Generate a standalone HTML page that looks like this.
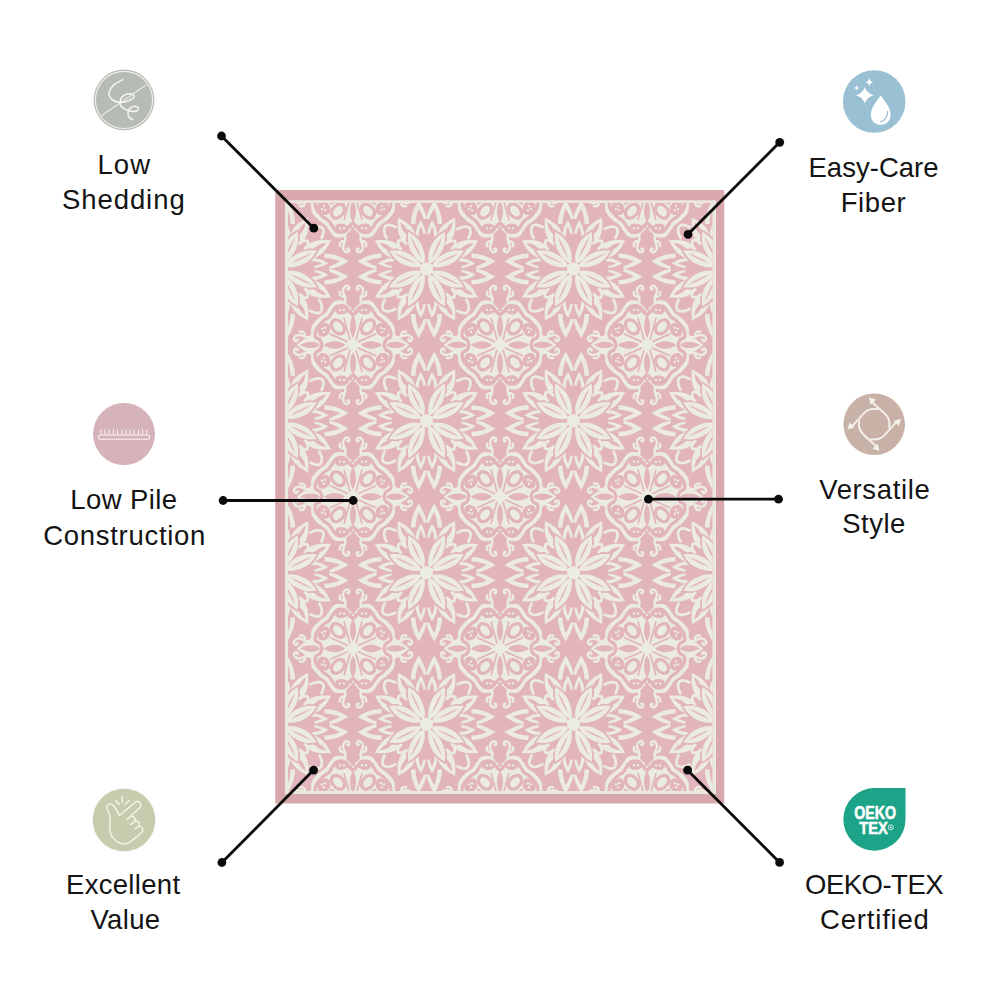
<!DOCTYPE html>
<html><head><meta charset="utf-8"><style>
html,body{margin:0;padding:0;background:#fff;width:1000px;height:1000px;overflow:hidden}
svg{display:block}
.t{font-family:"Liberation Sans",sans-serif;font-size:27.5px;fill:#141414}
</style></head><body>
<svg width="1000" height="1000" viewBox="0 0 1000 1000">
<defs>
<path id="fpet" d="M0 -5.5 C5 -11 6.3 -19 6 -26 C5.6 -32 2.8 -37 0 -41.5 C-2.8 -37 -5.6 -32 -6 -26 C-6.3 -19 -5 -11 0 -5.5Z"/>
<path id="fvein" d="M0 -12 C1.2 -20 1.2 -28 0 -36 C-1.2 -28 -1.2 -20 0 -12Z"/>
<path id="fout" d="M0 -22 C7 -28 8.2 -37 7.2 -44 C6 -50 3 -54 0 -59 C-3 -54 -6 -50 -7.2 -44 C-8.2 -37 -7 -28 0 -22Z"/>
<path id="fouti" d="M0 -38 C2 -42 2.3 -46 1.6 -49 C1.2 -51 0.6 -52 0 -53.5 C-0.6 -52 -1.2 -51 -1.6 -49 C-2.3 -46 -2 -42 0 -38Z"/>
<path id="flamO" d="M-15.5 -45 C-15.5 -55 -11.5 -63 -7.6 -69 C-4.5 -63 -0.8 -57 0.2 -50 L-2.8 -50 C-4 -54 -5.8 -57 -7.8 -60.5 C-9.5 -56 -11 -51 -11 -45Z"/>
<path id="flamI" d="M-11 -32 C-11 -39 -8.5 -45 -5.4 -48.8 C-3.2 -44.5 -1.2 -40 -0.7 -35 L-3.2 -35 C-3.7 -38 -4.7 -40.5 -5.6 -42.5 C-7 -39.5 -7.8 -36 -7.8 -32Z"/>
<g id="flower">
<use href="#fout" transform="rotate(-29)"/>
<use href="#fouti" fill="#e2b5bc" transform="rotate(-29)"/>
<use href="#fout" transform="rotate(29)"/>
<use href="#fouti" fill="#e2b5bc" transform="rotate(29)"/>
<use href="#fout" transform="rotate(61)"/>
<use href="#fouti" fill="#e2b5bc" transform="rotate(61)"/>
<use href="#fout" transform="rotate(119)"/>
<use href="#fouti" fill="#e2b5bc" transform="rotate(119)"/>
<use href="#fout" transform="rotate(151)"/>
<use href="#fouti" fill="#e2b5bc" transform="rotate(151)"/>
<use href="#fout" transform="rotate(209)"/>
<use href="#fouti" fill="#e2b5bc" transform="rotate(209)"/>
<use href="#fout" transform="rotate(241)"/>
<use href="#fouti" fill="#e2b5bc" transform="rotate(241)"/>
<use href="#fout" transform="rotate(299)"/>
<use href="#fouti" fill="#e2b5bc" transform="rotate(299)"/>
<g transform="rotate(0)"><use href="#flamO"/><use href="#flamO" transform="scale(-1 1)"/><use href="#flamI"/><use href="#flamI" transform="scale(-1 1)"/></g>
<g transform="rotate(90)"><use href="#flamO"/><use href="#flamO" transform="scale(-1 1)"/><use href="#flamI"/><use href="#flamI" transform="scale(-1 1)"/></g>
<g transform="rotate(180)"><use href="#flamO"/><use href="#flamO" transform="scale(-1 1)"/><use href="#flamI"/><use href="#flamI" transform="scale(-1 1)"/></g>
<g transform="rotate(270)"><use href="#flamO"/><use href="#flamO" transform="scale(-1 1)"/><use href="#flamI"/><use href="#flamI" transform="scale(-1 1)"/></g>
<use href="#fpet" fill="#e2b5bc" transform="rotate(-26) scale(1.25 1.07)"/>
<use href="#fpet" fill="#e2b5bc" transform="rotate(26) scale(1.25 1.07)"/>
<use href="#fpet" fill="#e2b5bc" transform="rotate(64) scale(1.25 1.07)"/>
<use href="#fpet" fill="#e2b5bc" transform="rotate(116) scale(1.25 1.07)"/>
<use href="#fpet" fill="#e2b5bc" transform="rotate(154) scale(1.25 1.07)"/>
<use href="#fpet" fill="#e2b5bc" transform="rotate(206) scale(1.25 1.07)"/>
<use href="#fpet" fill="#e2b5bc" transform="rotate(244) scale(1.25 1.07)"/>
<use href="#fpet" fill="#e2b5bc" transform="rotate(296) scale(1.25 1.07)"/>
<use href="#fpet" transform="rotate(-26)"/>
<use href="#fpet" transform="rotate(26)"/>
<use href="#fpet" transform="rotate(64)"/>
<use href="#fpet" transform="rotate(116)"/>
<use href="#fpet" transform="rotate(154)"/>
<use href="#fpet" transform="rotate(206)"/>
<use href="#fpet" transform="rotate(244)"/>
<use href="#fpet" transform="rotate(296)"/>
<circle r="6.6"/>
<g fill="none" stroke="#ebebe0" stroke-width="2.8" stroke-linecap="round">
<path transform="rotate(0)" d="M-40 -31 C-43 -36 -43 -41 -41 -43 C-39 -45 -35 -44 -31 -42"/>
<path transform="rotate(0)" d="M-26 -20 C-28.5 -23 -29 -27 -27.5 -28.5 C-26 -29.5 -23 -28 -20.5 -25.5"/>
<path transform="rotate(90)" d="M-40 -31 C-43 -36 -43 -41 -41 -43 C-39 -45 -35 -44 -31 -42"/>
<path transform="rotate(90)" d="M-26 -20 C-28.5 -23 -29 -27 -27.5 -28.5 C-26 -29.5 -23 -28 -20.5 -25.5"/>
<path transform="rotate(180)" d="M-40 -31 C-43 -36 -43 -41 -41 -43 C-39 -45 -35 -44 -31 -42"/>
<path transform="rotate(180)" d="M-26 -20 C-28.5 -23 -29 -27 -27.5 -28.5 C-26 -29.5 -23 -28 -20.5 -25.5"/>
<path transform="rotate(270)" d="M-40 -31 C-43 -36 -43 -41 -41 -43 C-39 -45 -35 -44 -31 -42"/>
<path transform="rotate(270)" d="M-26 -20 C-28.5 -23 -29 -27 -27.5 -28.5 C-26 -29.5 -23 -28 -20.5 -25.5"/>
</g>
<use href="#fvein" fill="#e2b5bc" transform="rotate(-26)"/>
<use href="#fvein" fill="#e2b5bc" transform="rotate(26)"/>
<use href="#fvein" fill="#e2b5bc" transform="rotate(64)"/>
<use href="#fvein" fill="#e2b5bc" transform="rotate(116)"/>
<use href="#fvein" fill="#e2b5bc" transform="rotate(154)"/>
<use href="#fvein" fill="#e2b5bc" transform="rotate(206)"/>
<use href="#fvein" fill="#e2b5bc" transform="rotate(244)"/>
<use href="#fvein" fill="#e2b5bc" transform="rotate(296)"/>
</g>
<path id="mbody" d="M0 -35 C0 -35 -3.5 -37.58 -5 -39 C-6.5 -40.42 -6.83 -42.75 -9 -43.5 C-11.17 -44.25 -15.67 -44.42 -18 -43.5 C-20.33 -42.58 -21.5 -39.92 -23 -38 C-24.5 -36.08 -25.5 -33.58 -27 -32 C-28.5 -30.42 -30.33 -29.83 -32 -28.5 C-33.67 -27.17 -35.5 -25.75 -37 -24 C-38.5 -22.25 -40.17 -20.33 -41 -18 C-41.83 -15.67 -40.83 -12 -42 -10 C-43.17 -8 -48 -6 -48 -6 C-48 -6 -56 0 -56 0 C-56 0 -48 6 -48 6 C-48 6 -43.17 8 -42 10 C-40.83 12 -41.83 15.67 -41 18 C-40.17 20.33 -38.5 22.25 -37 24 C-35.5 25.75 -33.67 27.17 -32 28.5 C-30.33 29.83 -28.5 30.42 -27 32 C-25.5 33.58 -24.5 36.08 -23 38 C-21.5 39.92 -20.33 42.58 -18 43.5 C-15.67 44.42 -11.17 44.25 -9 43.5 C-6.83 42.75 -6.5 40.42 -5 39 C-3.5 37.58 0 35 0 35 C0 35 3.5 37.58 5 39 C6.5 40.42 6.83 42.75 9 43.5 C11.17 44.25 15.67 44.42 18 43.5 C20.33 42.58 21.5 39.92 23 38 C24.5 36.08 25.5 33.58 27 32 C28.5 30.42 30.33 29.83 32 28.5 C33.67 27.17 35.5 25.75 37 24 C38.5 22.25 40.17 20.33 41 18 C41.83 15.67 40.83 12 42 10 C43.17 8 48 6 48 6 C48 6 56 0 56 0 C56 0 48 -6 48 -6 C48 -6 43.17 -8 42 -10 C40.83 -12 41.83 -15.67 41 -18 C40.17 -20.33 38.5 -22.25 37 -24 C35.5 -25.75 33.67 -27.17 32 -28.5 C30.33 -29.83 28.5 -30.42 27 -32 C25.5 -33.58 24.5 -36.08 23 -38 C21.5 -39.92 20.33 -42.58 18 -43.5 C15.67 -44.42 11.17 -44.25 9 -43.5 C6.83 -42.75 6.5 -40.42 5 -39 C3.5 -37.58 0 -35 0 -35Z" stroke="#ebebe0" stroke-width="1" stroke-linejoin="round"/>
<path id="mring" d="M0 -30 C0 -30 -2.67 -32.08 -4 -33.5 C-5.33 -34.92 -6 -37.67 -8 -38.5 C-10 -39.33 -14 -39.25 -16 -38.5 C-18 -37.75 -18.67 -35.75 -20 -34 C-21.33 -32.25 -22.5 -29.58 -24 -28 C-25.5 -26.42 -27.5 -25.75 -29 -24.5 C-30.5 -23.25 -31.67 -22.08 -33 -20.5 C-34.33 -18.92 -36.25 -17.08 -37 -15 C-37.75 -12.92 -38.17 -9.67 -37.5 -8 C-36.83 -6.33 -34.08 -6.33 -33 -5 C-31.92 -3.67 -31 0 -31 0 C-31 0 -31.92 3.67 -33 5 C-34.08 6.33 -36.83 6.33 -37.5 8 C-38.17 9.67 -37.75 12.92 -37 15 C-36.25 17.08 -34.33 18.92 -33 20.5 C-31.67 22.08 -30.5 23.25 -29 24.5 C-27.5 25.75 -25.5 26.42 -24 28 C-22.5 29.58 -21.33 32.25 -20 34 C-18.67 35.75 -18 37.75 -16 38.5 C-14 39.25 -10 39.33 -8 38.5 C-6 37.67 -5.33 34.92 -4 33.5 C-2.67 32.08 0 30 0 30 C0 30 2.67 32.08 4 33.5 C5.33 34.92 6 37.67 8 38.5 C10 39.33 14 39.25 16 38.5 C18 37.75 18.67 35.75 20 34 C21.33 32.25 22.5 29.58 24 28 C25.5 26.42 27.5 25.75 29 24.5 C30.5 23.25 31.67 22.08 33 20.5 C34.33 18.92 36.25 17.08 37 15 C37.75 12.92 38.17 9.67 37.5 8 C36.83 6.33 34.08 6.33 33 5 C31.92 3.67 31 0 31 0 C31 0 31.92 -3.67 33 -5 C34.08 -6.33 36.83 -6.33 37.5 -8 C38.17 -9.67 37.75 -12.92 37 -15 C36.25 -17.08 34.33 -18.92 33 -20.5 C31.67 -22.08 30.5 -23.25 29 -24.5 C27.5 -25.75 25.5 -26.42 24 -28 C22.5 -29.58 21.33 -32.25 20 -34 C18.67 -35.75 18 -37.75 16 -38.5 C14 -39.25 10 -39.33 8 -38.5 C6 -37.67 5.33 -34.92 4 -33.5 C2.67 -32.08 0 -30 0 -30Z" fill="none" stroke="#e2b5bc" stroke-width="3.3" stroke-linejoin="round"/>
<g id="med">
<use href="#mbody"/>
<use href="#mring"/>
<g fill="none" stroke="#ebebe0" stroke-width="2.5" stroke-linecap="round"><path transform="rotate(0) scale(-1 1)" d="M-8 -43 C-6 -47 -10 -50 -10 -54 C-10 -58 -6.5 -60 -4.5 -58.5 C-3 -57 -4 -55 -5.5 -55.5 M-9 -48 C-12 -48 -14 -50 -13 -53"/><path transform="rotate(0) scale(1 1)" d="M-8 -43 C-6 -47 -10 -50 -10 -54 C-10 -58 -6.5 -60 -4.5 -58.5 C-3 -57 -4 -55 -5.5 -55.5 M-9 -48 C-12 -48 -14 -50 -13 -53"/><path transform="rotate(90) scale(-1 1)" d="M-8 -43 C-6 -47 -10 -50 -10 -54 C-10 -58 -6.5 -60 -4.5 -58.5 C-3 -57 -4 -55 -5.5 -55.5 M-9 -48 C-12 -48 -14 -50 -13 -53"/><path transform="rotate(90) scale(1 1)" d="M-8 -43 C-6 -47 -10 -50 -10 -54 C-10 -58 -6.5 -60 -4.5 -58.5 C-3 -57 -4 -55 -5.5 -55.5 M-9 -48 C-12 -48 -14 -50 -13 -53"/><path transform="rotate(180) scale(-1 1)" d="M-8 -43 C-6 -47 -10 -50 -10 -54 C-10 -58 -6.5 -60 -4.5 -58.5 C-3 -57 -4 -55 -5.5 -55.5 M-9 -48 C-12 -48 -14 -50 -13 -53"/><path transform="rotate(180) scale(1 1)" d="M-8 -43 C-6 -47 -10 -50 -10 -54 C-10 -58 -6.5 -60 -4.5 -58.5 C-3 -57 -4 -55 -5.5 -55.5 M-9 -48 C-12 -48 -14 -50 -13 -53"/><path transform="rotate(270) scale(-1 1)" d="M-8 -43 C-6 -47 -10 -50 -10 -54 C-10 -58 -6.5 -60 -4.5 -58.5 C-3 -57 -4 -55 -5.5 -55.5 M-9 -48 C-12 -48 -14 -50 -13 -53"/><path transform="rotate(270) scale(1 1)" d="M-8 -43 C-6 -47 -10 -50 -10 -54 C-10 -58 -6.5 -60 -4.5 -58.5 C-3 -57 -4 -55 -5.5 -55.5 M-9 -48 C-12 -48 -14 -50 -13 -53"/></g>
<g fill="#e2b5bc"><path transform="rotate(90)" d="M0 -53 C4 -46 4.5 -38 0 -33 C-4.5 -38 -4 -46 0 -53Z"/><path transform="rotate(90)" d="M0 -29 C5 -22 5 -14 0 -8 C-5 -14 -5 -22 0 -29Z"/><path transform="rotate(270)" d="M0 -53 C4 -46 4.5 -38 0 -33 C-4.5 -38 -4 -46 0 -53Z"/><path transform="rotate(270)" d="M0 -29 C5 -22 5 -14 0 -8 C-5 -14 -5 -22 0 -29Z"/><path transform="rotate(0)" d="M0 -30 C4 -23 4 -14 0 -7 C-4 -14 -4 -23 0 -30Z"/><path transform="rotate(0)" d="M-6 -38 L-3 -31 L0 -35 L3 -31 L6 -38 L3 -34 L0 -38.5 L-3 -34Z"/><path transform="rotate(180)" d="M0 -30 C4 -23 4 -14 0 -7 C-4 -14 -4 -23 0 -30Z"/><path transform="rotate(180)" d="M-6 -38 L-3 -31 L0 -35 L3 -31 L6 -38 L3 -34 L0 -38.5 L-3 -34Z"/><ellipse transform="translate(-15 -18) rotate(-40)" rx="7" ry="9.5"/><ellipse transform="translate(-29 -15) rotate(40)" rx="6" ry="7.5"/><ellipse transform="translate(-11 -35) rotate(-10)" rx="7" ry="4.5"/><ellipse transform="translate(-15 18) rotate(40)" rx="7" ry="9.5"/><ellipse transform="translate(-29 15) rotate(-40)" rx="6" ry="7.5"/><ellipse transform="translate(-11 35) rotate(10)" rx="7" ry="4.5"/><ellipse transform="translate(15 -18) rotate(40)" rx="7" ry="9.5"/><ellipse transform="translate(29 -15) rotate(-40)" rx="6" ry="7.5"/><ellipse transform="translate(11 -35) rotate(10)" rx="7" ry="4.5"/><ellipse transform="translate(15 18) rotate(-40)" rx="7" ry="9.5"/><ellipse transform="translate(29 15) rotate(40)" rx="6" ry="7.5"/><ellipse transform="translate(11 35) rotate(-10)" rx="7" ry="4.5"/></g>
<g stroke="#e2b5bc" stroke-width="1.7" fill="none">
<path transform="scale(-1 -1)" d="M-5 -3 L-23 -11 M-3 -5 L-9 -27"/>
<path transform="scale(-1 1)" d="M-5 -3 L-23 -11 M-3 -5 L-9 -27"/>
<path transform="scale(1 -1)" d="M-5 -3 L-23 -11 M-3 -5 L-9 -27"/>
<path transform="scale(1 1)" d="M-5 -3 L-23 -11 M-3 -5 L-9 -27"/>
</g>
<g fill="#ebebe0"><ellipse transform="translate(-15 -18) rotate(-40)" rx="4" ry="6"/><circle cx="-29" cy="-13" r="1.2"/><circle cx="-28" cy="-17" r="1.2"/><circle cx="-31" cy="-16" r="1.2"/><circle cx="-9" cy="-35" r="1.2"/><circle cx="-13" cy="-35" r="1.2"/><ellipse transform="translate(-15 18) rotate(40)" rx="4" ry="6"/><circle cx="-29" cy="13" r="1.2"/><circle cx="-28" cy="17" r="1.2"/><circle cx="-31" cy="16" r="1.2"/><circle cx="-9" cy="35" r="1.2"/><circle cx="-13" cy="35" r="1.2"/><ellipse transform="translate(15 -18) rotate(40)" rx="4" ry="6"/><circle cx="29" cy="-13" r="1.2"/><circle cx="28" cy="-17" r="1.2"/><circle cx="31" cy="-16" r="1.2"/><circle cx="9" cy="-35" r="1.2"/><circle cx="13" cy="-35" r="1.2"/><ellipse transform="translate(15 18) rotate(-40)" rx="4" ry="6"/><circle cx="29" cy="13" r="1.2"/><circle cx="28" cy="17" r="1.2"/><circle cx="31" cy="16" r="1.2"/><circle cx="9" cy="35" r="1.2"/><circle cx="13" cy="35" r="1.2"/></g>
</g>
</defs>
<rect width="1000" height="1000" fill="#fff"/>
<rect x="275.2" y="190" width="449.00000000000006" height="613.5" fill="#d9a8ad"/>
<rect x="285" y="200.3" width="431" height="593.7" fill="#ebe8de"/>
<clipPath id="field"><rect x="288" y="202.8" width="424.70000000000005" height="588.2"/></clipPath>
<g clip-path="url(#field)">
<rect x="288" y="202.8" width="424.70000000000005" height="588.2" fill="#e2b5bc"/>
<g fill="#ebebe0">
<use href="#flower" x="279.5" y="269"/>
<use href="#flower" x="279.5" y="420.8"/>
<use href="#flower" x="279.5" y="572.6"/>
<use href="#flower" x="279.5" y="724.4"/>
<use href="#med" x="353" y="193.1"/>
<use href="#med" x="353" y="344.9"/>
<use href="#med" x="353" y="496.7"/>
<use href="#med" x="353" y="648.5"/>
<use href="#med" x="353" y="800.3"/>
<use href="#flower" x="426.5" y="269"/>
<use href="#flower" x="426.5" y="420.8"/>
<use href="#flower" x="426.5" y="572.6"/>
<use href="#flower" x="426.5" y="724.4"/>
<use href="#med" x="500" y="193.1"/>
<use href="#med" x="500" y="344.9"/>
<use href="#med" x="500" y="496.7"/>
<use href="#med" x="500" y="648.5"/>
<use href="#med" x="500" y="800.3"/>
<use href="#flower" x="573.5" y="269"/>
<use href="#flower" x="573.5" y="420.8"/>
<use href="#flower" x="573.5" y="572.6"/>
<use href="#flower" x="573.5" y="724.4"/>
<use href="#med" x="647" y="193.1"/>
<use href="#med" x="647" y="344.9"/>
<use href="#med" x="647" y="496.7"/>
<use href="#med" x="647" y="648.5"/>
<use href="#med" x="647" y="800.3"/>
<use href="#flower" x="720.5" y="269"/>
<use href="#flower" x="720.5" y="420.8"/>
<use href="#flower" x="720.5" y="572.6"/>
<use href="#flower" x="720.5" y="724.4"/>
</g></g>
<g stroke="#0a0a0a" stroke-width="2.8" fill="#0a0a0a">
<line x1="221.5" y1="136" x2="313.8" y2="228.2"/>
<circle cx="221.5" cy="136" r="4.4" stroke="none"/><circle cx="313.8" cy="228.2" r="4.4" stroke="none"/>
<line x1="779.7" y1="142.3" x2="688" y2="234.3"/>
<circle cx="779.7" cy="142.3" r="4.4" stroke="none"/><circle cx="688" cy="234.3" r="4.4" stroke="none"/>
<line x1="223.1" y1="500.5" x2="353.2" y2="500.5"/>
<circle cx="223.1" cy="500.5" r="4.4" stroke="none"/><circle cx="353.2" cy="500.5" r="4.4" stroke="none"/>
<line x1="648.4" y1="499.2" x2="778.5" y2="499.2"/>
<circle cx="648.4" cy="499.2" r="4.4" stroke="none"/><circle cx="778.5" cy="499.2" r="4.4" stroke="none"/>
<line x1="221.9" y1="862.5" x2="313.6" y2="770.1"/>
<circle cx="221.9" cy="862.5" r="4.4" stroke="none"/><circle cx="313.6" cy="770.1" r="4.4" stroke="none"/>
<line x1="779.6" y1="862.4" x2="687.6" y2="770.2"/>
<circle cx="779.6" cy="862.4" r="4.4" stroke="none"/><circle cx="687.6" cy="770.2" r="4.4" stroke="none"/>
</g>
<circle cx="124" cy="99.9" r="30.4" fill="#b7bbb5"/>
<circle cx="124" cy="99.9" r="28.6" fill="none" stroke="#eef0ec" stroke-width="1.15"/>
<line x1="101.4" y1="115.8" x2="146.6" y2="84.6" stroke="#eef0ec" stroke-width="1.1"/>
<path d="M122.70 79.60 C121.18 80.52 115.83 83.07 113.60 85.10 C111.37 87.13 109.93 89.80 109.30 91.80 C108.67 93.80 108.92 95.57 109.80 97.10 C110.68 98.63 112.93 100.12 114.60 101.00 C116.27 101.88 118.15 102.22 119.80 102.40 C121.45 102.58 122.97 102.42 124.50 102.10 C126.03 101.78 127.53 101.17 129.00 100.50 C130.47 99.83 132.50 98.98 133.30 98.10 C134.10 97.22 134.37 95.92 133.80 95.20 C133.23 94.48 131.50 93.80 129.90 93.80 C128.30 93.80 125.72 94.40 124.20 95.20 C122.68 96.00 121.45 97.32 120.80 98.60 C120.15 99.88 120.30 101.70 120.30 102.90 C120.30 104.10 120.08 104.77 120.80 105.80 C121.52 106.83 123.23 108.30 124.60 109.10 C125.97 109.90 127.47 110.20 129.00 110.60 C130.53 111.00 132.37 111.50 133.80 111.50 C135.23 111.50 136.88 111.23 137.60 110.60 C138.32 109.97 138.58 108.43 138.10 107.70 C137.62 106.97 135.90 106.20 134.70 106.20 C133.50 106.20 131.92 106.98 130.90 107.70 C129.88 108.42 129.08 109.55 128.60 110.50 C128.12 111.45 127.93 112.27 128.00 113.40 C128.07 114.53 128.20 116.25 129.00 117.30 C129.80 118.35 132.17 119.30 132.80 119.70" fill="none" stroke="#f4f5f2" stroke-width="1.55" stroke-linecap="round"/>
<circle cx="874.2" cy="101.5" r="31.3" fill="#9ac1d3"/>
<path d="M864.8 86.9 Q866.9119999999999 93.208 873.5999999999999 95.2 Q866.9119999999999 97.19200000000001 864.8 103.5 Q862.688 97.19200000000001 856.0 95.2 Q862.688 93.208 864.8 86.9Z M869.3 78.3 Q870.02 81.58 873.3 82.3 Q870.02 83.02 869.3 86.3 Q868.5799999999999 83.02 865.3 82.3 Q868.5799999999999 81.58 869.3 78.3Z M856.7 85.5 Q857.1500000000001 87.55 859.2 88 Q857.1500000000001 88.45 856.7 90.5 Q856.25 88.45 854.2 88 Q856.25 87.55 856.7 85.5Z" fill="#fff"/>
<path d="M880.7 95.3 C883.5 100.5 890.6 106.5 890.6 115.2 A9.9 9.9 0 0 1 870.8 115.2 C870.8 106.5 877.9 100.5 880.7 95.3Z" fill="#fff"/>
<path d="M887.4 111.6 C887.8 116.5 885 120.5 880.8 121.6" fill="none" stroke="#9ac1d3" stroke-width="1.3" stroke-linecap="round"/>
<circle cx="124" cy="434" r="31" fill="#d6b2b9"/>
<g fill="none" stroke="#fbf5f6" stroke-width="1.05"><rect x="98.3" y="434.9" width="51.4" height="4.3" rx="2.15"/><path d="M100.90 429.4V434.6M105.07 429.4V434.6M109.24 429.4V434.6M113.41 429.4V434.6M117.58 429.4V434.6M121.75 429.4V434.6M125.92 429.4V434.6M130.09 429.4V434.6M134.26 429.4V434.6M138.43 429.4V434.6M142.60 429.4V434.6M146.77 429.4V434.6"/></g>
<circle cx="874.2" cy="424.2" r="30.8" fill="#c8b2a8"/>
<g transform="translate(874.2 424.2)" stroke="#f6f1ec" fill="#f6f1ec" stroke-width="1.9" stroke-linecap="round"><g transform="rotate(0)"><path d="M3 -15 A15 15 0 0 0 -10.6 -10.6 L-21.5 1.5" fill="none"/><path d="M-26.8 5.3 L-19.5 3.4 L-24.6 -1.8Z" stroke="none"/></g><g transform="rotate(90)"><path d="M3 -15 A15 15 0 0 0 -10.6 -10.6 L-21.5 1.5" fill="none"/><path d="M-26.8 5.3 L-19.5 3.4 L-24.6 -1.8Z" stroke="none"/></g><g transform="rotate(180)"><path d="M3 -15 A15 15 0 0 0 -10.6 -10.6 L-21.5 1.5" fill="none"/><path d="M-26.8 5.3 L-19.5 3.4 L-24.6 -1.8Z" stroke="none"/></g><g transform="rotate(270)"><path d="M3 -15 A15 15 0 0 0 -10.6 -10.6 L-21.5 1.5" fill="none"/><path d="M-26.8 5.3 L-19.5 3.4 L-24.6 -1.8Z" stroke="none"/></g></g>
<circle cx="124" cy="820" r="31.3" fill="#c7ccae"/>
<path d="M119.5 815.5 L134.5 802.8 C136.5 801 139.5 801.2 140.5 803.5 C141.2 805.5 140.5 807 139 808.5 L127 819.5 M131 816 C134 816.5 136 818.5 135 821 C134.3 822.5 132 823.5 130.5 824.5 M134.5 820.5 C137.5 820.8 139.8 822.5 139.2 825 C138.7 826.8 136.5 828 135 829 M138.5 826 C141.5 826 143.2 828 142.7 831 C142.2 833 140 834.5 130 842 C127 844.2 122 844.5 118.5 842.5 C114 840 111 837 110 831 C109 826 110.5 821 110 816.5 C109.5 812 107 810 106.8 807.5 C106.6 805 108.5 803.8 110.5 804 C113 804.2 114.5 806 119.5 815.5 M122 796.5 L122.4 802.3 M115.5 800.5 L119.3 804.3 M125.2 804.3 L129 800.5" fill="none" stroke="#f3f5e2" stroke-width="1.5" stroke-linecap="round" stroke-linejoin="round"/>
<path d="M905.5 788.1 V819.5 A31.1 31.3 0 1 1 874.4 788.1 Z" fill="#1da387"/>
<g font-family="Liberation Sans" font-weight="bold" fill="#fff" stroke="#fff" stroke-width="0.55" text-anchor="middle"><text x="875.1" y="819.2" font-size="17.5" textLength="41.8" lengthAdjust="spacingAndGlyphs">OEKO</text><text x="873.5" y="834.4" font-size="17" textLength="28.5" lengthAdjust="spacingAndGlyphs">TEX</text></g>
<circle cx="890.8" cy="827.3" r="2.5" fill="none" stroke="#fff" stroke-width="0.8"/><circle cx="890.8" cy="827.3" r="0.9" fill="#fff"/>
<g class="t">
<text x="97.4" y="173.6" textLength="52.75">Low</text>
<text x="61.9" y="208.7" textLength="122.82">Shedding</text>
<text x="808.5" y="176.7" textLength="130.11">Easy-Care</text>
<text x="840.75" y="211.8" textLength="64.91">Fiber</text>
<text x="70.3" y="509.2" textLength="106.65">Low Pile</text>
<text x="43.25" y="544.6" textLength="162.14">Construction</text>
<text x="819.2" y="498.5" textLength="110.53">Versatile</text>
<text x="842.25" y="533" textLength="63.14">Style</text>
<text x="66" y="894.25" textLength="114.09">Excellent</text>
<text x="90.5" y="928.75" textLength="69.55">Value</text>
<text x="805" y="894.25" textLength="138.61">OEKO-TEX</text>
<text x="820" y="928.75" textLength="108.91">Certified</text>
</g>
</svg>
</body></html>
